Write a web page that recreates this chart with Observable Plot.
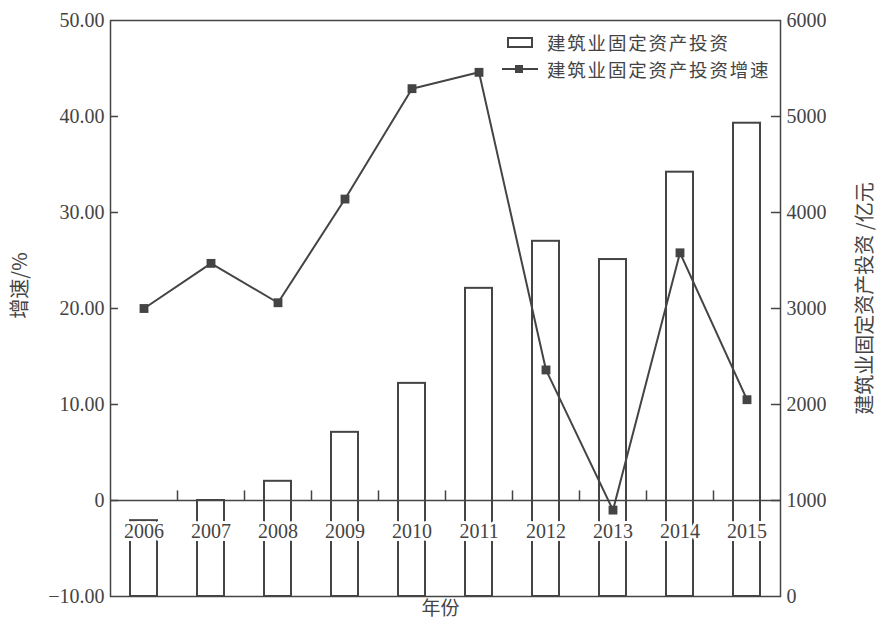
<!DOCTYPE html>
<html>
<head>
<meta charset="utf-8">
<script src="https://cdn.jsdelivr.net/npm/d3@7"></script>
<script src="https://cdn.jsdelivr.net/npm/@observablehq/plot@0.6"></script>
<style>
  html, body { margin: 0; padding: 0; background: #fff; }
  #chart { position: relative; width: 879px; height: 626px; }
</style>
</head>
<body>
<div id="chart"></div>
<script>
// 建筑业固定资产投资（亿元）与增速（%），2006—2015
const years = ["2006", "2007", "2008", "2009", "2010", "2011", "2012", "2013", "2014", "2015"];
const investment = [790, 1000, 1200, 1710, 2220, 3210, 3700, 3510, 4420, 4930];
const growth = [20.0, 24.7, 20.6, 31.4, 42.9, 44.6, 13.6, -1.0, 25.8, 10.5];

const growthTicks = [-10, 0, 10, 20, 30, 40, 50];
const investTicks = [0, 1000, 2000, 3000, 4000, 5000, 6000];
const growthDomain = [-10, 50];
const investDomain = [0, 6000];

const seriesNames = ["建筑业固定资产投资", "建筑业固定资产投资增速"];
const leftTitle = "增速/%";
const rightTitle = "建筑业固定资产投资 /亿元";
const xTitle = "年份";

// The investment axis shares the frame with the growth axis.
const toGrowth = d3.scaleLinear().domain(investDomain).range(growthDomain);

const rows = years.map((year, i) => ({ year, investment: investment[i], growth: growth[i] }));

const ink = "#444";
const W = 879, H = 626;
const mL = 110, mR = 99, mT = 20, mB = 30;
const plotW = W - mL - mR;
const band = plotW / years.length;
const serif = '"Liberation Serif", "Noto Sans CJK SC", serif';
const cjk = '"Noto Sans CJK SC", sans-serif';

const fmtGrowth = d => d === 0 ? "0" : (d < 0 ? "\u2212" : "") + Math.abs(d).toFixed(2);

const chart = Plot.plot({
  width: W,
  height: H,
  marginLeft: mL,
  marginRight: mR,
  marginTop: mT,
  marginBottom: mB,
  style: { fontFamily: serif, fontSize: "20px", color: ink, background: "#fff" },
  x: { type: "band", domain: years, padding: 0, axis: null },
  y: { domain: growthDomain, axis: null },
  marks: [
    // investment bars, measured on the right-hand axis
    Plot.barY(rows, {
      x: "year",
      y1: growthDomain[0],
      y2: d => toGrowth(d.investment),
      fill: "#fff",
      stroke: ink,
      strokeWidth: 2,
      insetLeft: 20,
      insetRight: 20
    }),
    // zero line with category ticks
    Plot.ruleY([0], { stroke: ink, strokeWidth: 1.5 }),
    Plot.ruleX(years.slice(1), { x: d => d, y1: 0, y2: 1, dx: -band / 2, stroke: ink, strokeWidth: 1.5 }),
    // year labels sit just under the zero line
    Plot.text(years, {
      x: d => d,
      y: 0,
      dy: 31,
      text: d => d,
      fill: ink,
      stroke: "#fff",
      strokeWidth: 6,
      paintOrder: "stroke",
      fontSize: 20,
      fontFamily: serif
    }),
    // growth line
    Plot.line(rows, { x: "year", y: "growth", stroke: ink, strokeWidth: 2 }),
    Plot.dot(rows, { x: "year", y: "growth", symbol: "square", r: 5, fill: ink, stroke: "none" }),
    // inward ticks on both vertical axes
    Plot.ruleY(growthTicks.slice(1, -1), { y: d => d, insetRight: plotW - 8, stroke: ink, strokeWidth: 1.5 }),
    Plot.ruleY(investTicks.slice(1, -1), { y: d => toGrowth(d), insetLeft: plotW - 9, stroke: ink, strokeWidth: 1.5 }),
    Plot.axisY(growthTicks, {
      anchor: "left",
      label: null,
      tickSize: 0,
      tickPadding: 6,
      tickFormat: fmtGrowth,
      fontSize: 20,
      fill: ink
    }),
    Plot.axisY(investTicks.map(v => toGrowth(v)), {
      anchor: "right",
      label: null,
      tickSize: 0,
      tickPadding: 6,
      tickFormat: d => String(Math.round(toGrowth.invert(d))),
      fontSize: 20,
      fill: ink
    }),
    Plot.frame({ stroke: ink, strokeWidth: 1.5 }),
    // axis titles
    Plot.text([leftTitle], {
      frameAnchor: "left", textAnchor: "middle", dx: -90, dy: -23, rotate: -90,
      text: d => d, fontSize: 20, fontFamily: cjk, fill: ink
    }),
    Plot.text([rightTitle], {
      frameAnchor: "right", textAnchor: "middle", dx: 85, dy: -10, rotate: -90,
      text: d => d, fontSize: 20, fontFamily: cjk, fill: ink
    }),
    Plot.text([xTitle], {
      frameAnchor: "bottom", dx: -5, dy: 18,
      text: d => d, fontSize: 19, fontFamily: cjk, fill: ink
    })
  ]
});

document.getElementById("chart").appendChild(chart);

// legend in the upper right of the frame
const svg = d3.select(chart);
const legend = svg.append("g")
  .attr("font-family", cjk)
  .attr("font-size", 18.5)
  .attr("letter-spacing", 1.8)
  .attr("fill", ink)
  .attr("text-anchor", "start");

legend.append("rect")
  .attr("x", 508).attr("y", 38).attr("width", 24).attr("height", 9)
  .attr("fill", "#fff").attr("stroke", ink).attr("stroke-width", 2);
legend.append("text")
  .attr("x", 547).attr("y", 42).attr("dominant-baseline", "central")
  .text(seriesNames[0]);

legend.append("line")
  .attr("x1", 502).attr("x2", 538).attr("y1", 69).attr("y2", 69)
  .attr("stroke", ink).attr("stroke-width", 2);
legend.append("rect")
  .attr("x", 515).attr("y", 65).attr("width", 8).attr("height", 8)
  .attr("fill", ink);
legend.append("text")
  .attr("x", 547).attr("y", 69).attr("dominant-baseline", "central")
  .text(seriesNames[1]);
</script>
</body>
</html>
